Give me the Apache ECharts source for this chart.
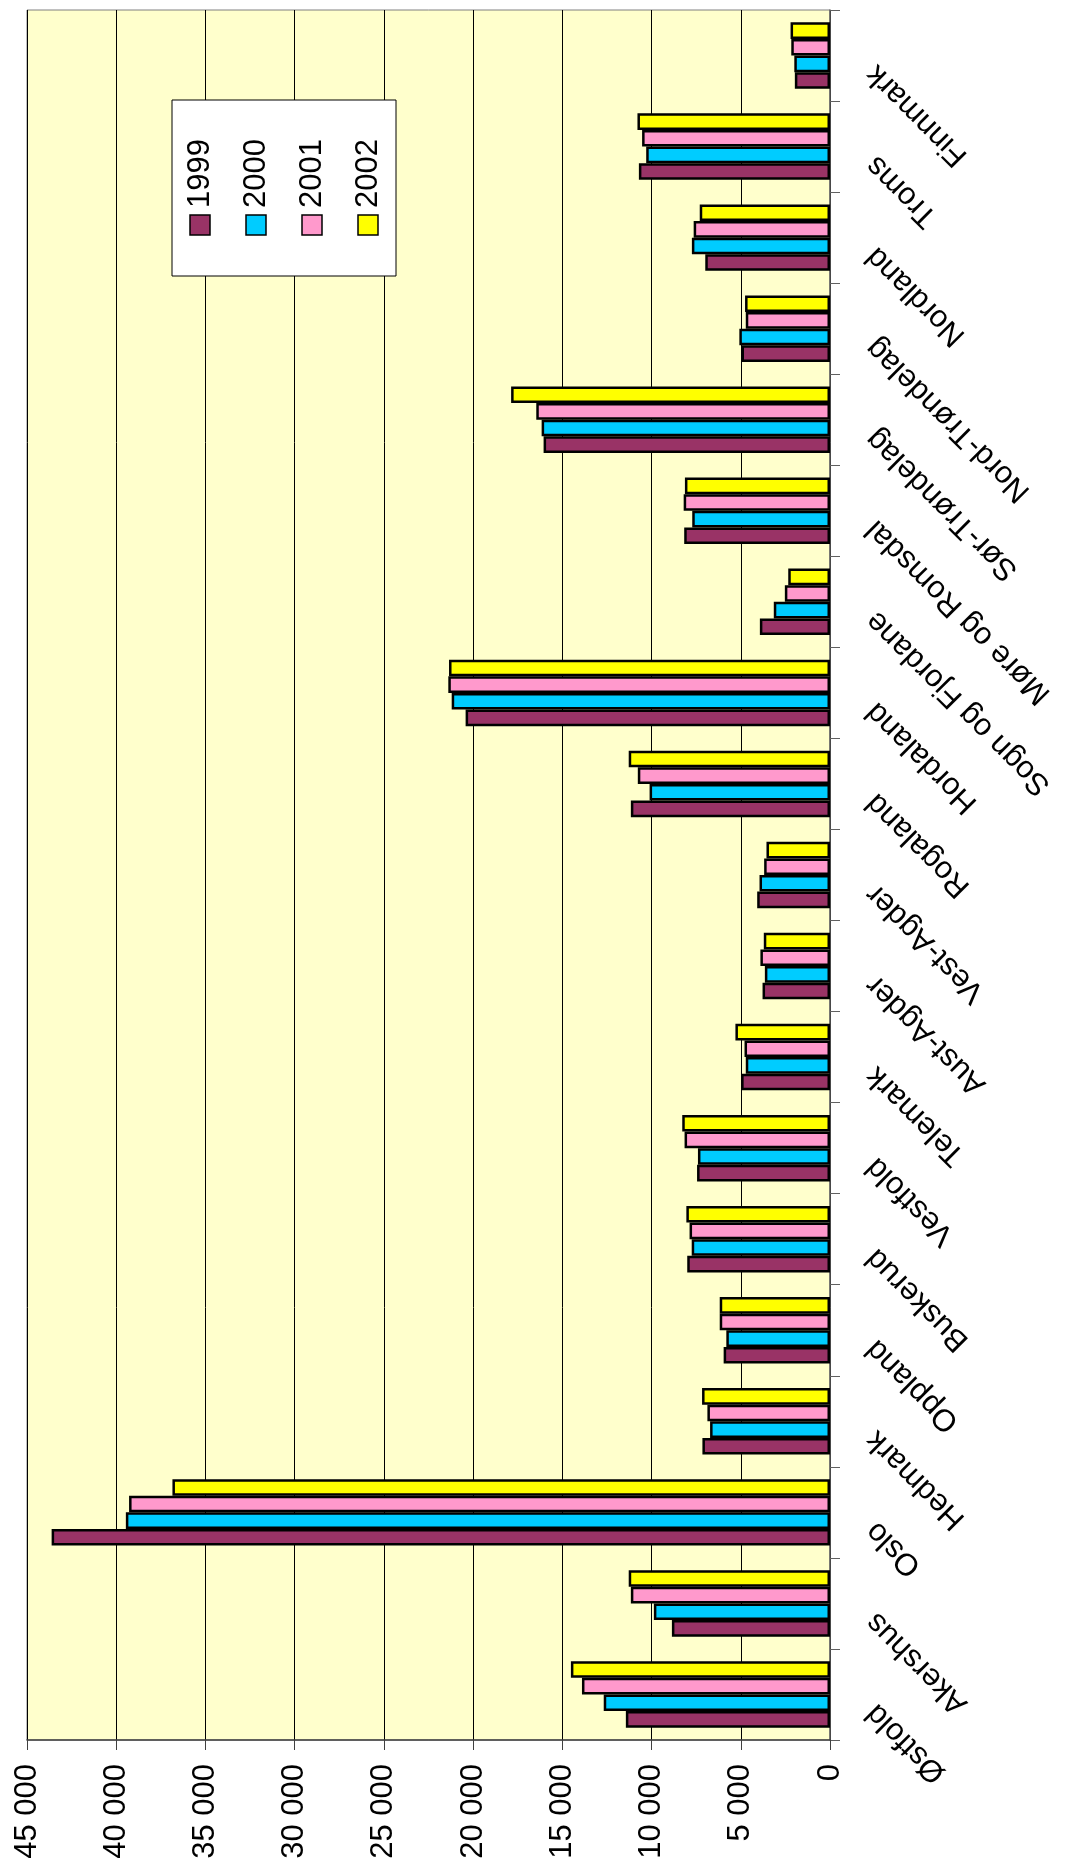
<!DOCTYPE html>
<html>
<head>
<meta charset="utf-8">
<script src="https://cdn.jsdelivr.net/npm/echarts@6/dist/echarts.min.js"></script>
<style>
html,body{margin:0;padding:0;background:#fff;}
#c{width:1067px;height:1867px;}
</style>
</head>
<body>
<div id="c"></div>
<script>
const categories = ['Østfold','Akershus','Oslo','Hedmark','Oppland','Buskerud','Vestfold','Telemark','Aust-Agder','Vest-Agder','Rogaland','Hordaland','Sogn og Fjordane','Møre og Romsdal','Sør-Trøndelag','Nord-Trøndelag','Nordland','Troms','Finnmark'];
const seriesNames = ['1999','2000','2001','2002'];
const v1999 = [11440, 8860, 43620, 7150, 5960, 8000, 7450, 4980, 3780, 4080, 11160, 20420, 3930, 8170, 16050, 4960, 6990, 10710, 1970];
const v2000 = [12680, 9870, 39460, 6720, 5810, 7750, 7400, 4720, 3650, 3950, 10110, 21200, 3150, 7720, 16160, 5080, 7740, 10300, 2000];
const v2001 = [13900, 11160, 39280, 6870, 6180, 7870, 8150, 4790, 3900, 3690, 10770, 21390, 2530, 8200, 16460, 4720, 7640, 10530, 2170];
const v2002 = [14520, 11280, 36850, 7170, 6180, 8050, 8280, 5300, 3710, 3560, 11280, 21350, 2340, 8130, 17870, 4760, 7300, 10790, 2210];
const colors = ['#993366','#00CCFF','#FF99CC','#FFFF00'];
const valueTicks = {min: 0, max: 45000, interval: 5000};

const allValues = [v1999, v2000, v2001, v2002];
const FONT = '"Liberation Sans", Arial, sans-serif';

function fmt(v){ return String(v).replace(/\B(?=(\d{3})+(?!\d))/g, ' '); }

const seriesList = seriesNames.map((n, i) => ({
  name: n,
  type: 'bar',
  data: allValues[i],
  barGap: '0%',
  barCategoryGap: '27%',
  itemStyle: {color: colors[i], borderColor: '#000', borderWidth: 2.5},
  emphasis: {disabled: true},
  silent: true,
  animation: false
})).reverse();

// legend drawn as graphic (rotated text)
const legendGraphic = [{
  type: 'rect',
  shape: {x: 172, y: 100, width: 224, height: 176},
  style: {fill: '#fff', stroke: '#000', lineWidth: 1},
  z: 100
}];
seriesNames.forEach((n, i) => {
  const cx = 200 + i * 56;
  legendGraphic.push({
    type: 'rect',
    shape: {x: cx - 10, y: 215, width: 20, height: 20},
    style: {fill: colors[i], stroke: '#000', lineWidth: 1.5},
    z: 101
  });
  legendGraphic.push({
    type: 'text',
    x: cx, y: 208,
    rotation: Math.PI / 2,
    style: {text: n, fill: '#000', font: '31px ' + FONT, align: 'left', verticalAlign: 'middle'},
    z: 101
  });
});

const chart = echarts.init(document.getElementById('c'), null, {renderer: 'canvas'});
chart.setOption({
  animation: false,
  backgroundColor: '#fff',
  grid: {
    left: 27, right: 237, top: 10, bottom: 127,
    show: true, backgroundColor: '#FFFFCC', borderColor: '#808080', borderWidth: 1,
    containLabel: false, outerBoundsMode: 'none'
  },
  xAxis: {
    type: 'value',
    inverse: true,
    position: 'bottom',
    min: valueTicks.min, max: valueTicks.max, interval: valueTicks.interval,
    axisLine: {show: true, lineStyle: {color: '#404040', width: 1.5}},
    axisTick: {show: true, length: 10, lineStyle: {color: '#404040', width: 1}},
    axisLabel: {
      rotate: 90, margin: 24, color: '#000', fontSize: 31, fontFamily: FONT,
      formatter: v => fmt(v)
    },
    splitLine: {show: true, lineStyle: {color: '#000', width: 1}}
  },
  yAxis: {
    type: 'category',
    position: 'right',
    data: categories,
    axisLine: {show: true, lineStyle: {color: '#606060', width: 1.5}},
    axisTick: {show: true, length: 10, lineStyle: {color: '#606060', width: 1}},
    axisLabel: {
      rotate: 135, margin: 27, color: '#000', fontSize: 31, fontFamily: FONT,
      align: 'right', verticalAlign: 'middle', padding: [0, 20, 0, 0],
      interval: 0
    },
    splitLine: {show: false}
  },
  series: seriesList,
  graphic: legendGraphic
});
</script>
</body>
</html>
